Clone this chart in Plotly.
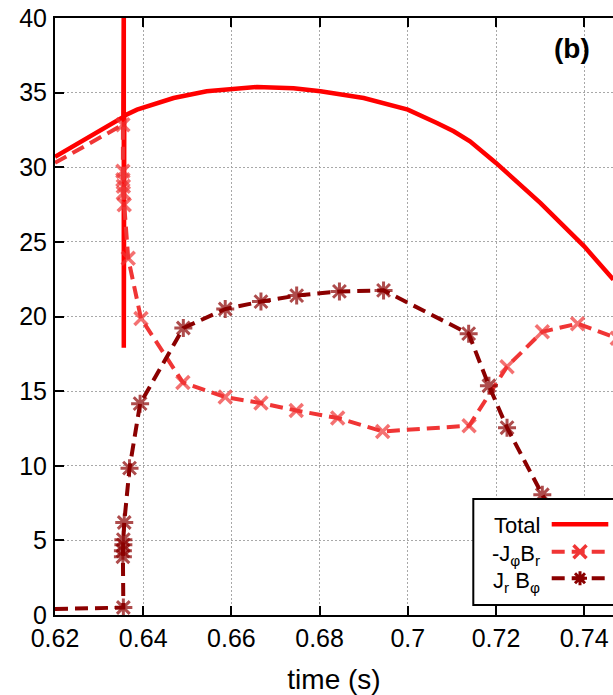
import plotly.graph_objects as go

# ---------------- data ----------------
x_ticks = [0.62, 0.64, 0.66, 0.68, 0.70, 0.72, 0.74]
x_tick_labels = ["0.62", "0.64", "0.66", "0.68", "0.7", "0.72", "0.74"]
y_ticks = [0, 5, 10, 15, 20, 25, 30, 35, 40]

# Total (solid, with a vertical spike near t = 0.6356 s)
total_t = [0.6200, 0.6355, 0.6356, 0.6356, 0.6357, 0.6386, 0.6469, 0.6544, 0.6600,
           0.6658, 0.6741, 0.6802, 0.6900, 0.7000, 0.7066, 0.7104, 0.7141, 0.7200,
           0.7301, 0.7400, 0.7466]
total_v = [30.70, 33.37, 42.0, 17.9, 33.45, 33.86, 34.64, 35.09, 35.27,
           35.38, 35.29, 35.09, 34.64, 33.86, 32.97, 32.41, 31.74, 30.29,
           27.60, 24.70, 22.47]

# -J_phi B_r
jphi_br_t = [0.6200, 0.6354, 0.6354, 0.6354, 0.6355, 0.6355, 0.6357, 0.6366, 0.6395,
             0.6490, 0.6586, 0.6667, 0.6747, 0.6841, 0.6943, 0.7139, 0.7225, 0.7305,
             0.7385, 0.7475]
jphi_br_v = [30.30, 32.85, 29.73, 29.17, 28.72, 28.28, 27.49, 23.90, 19.87,
             15.58, 14.60, 14.20, 13.70, 13.20, 12.30, 12.68, 16.64, 18.98,
             19.52, 18.55]

# J_r B_phi
jr_bphi_t = [0.6200, 0.6355, 0.6354, 0.6354, 0.6355, 0.6355, 0.6357, 0.6369, 0.6393,
             0.6491, 0.6586, 0.6667, 0.6748, 0.6845, 0.6945, 0.7138, 0.7184, 0.7225,
             0.7305, 0.7385]
jr_bphi_v = [0.40, 0.50, 3.90, 4.30, 4.70, 5.05, 6.20, 9.84, 14.16,
             19.23, 20.50, 21.00, 21.40, 21.68, 21.75, 18.85, 15.36, 12.55,
             8.06, 3.60]

# ---------------- style ----------------
FONT = "Liberation Sans, Arial, Helvetica, sans-serif"
C_TOTAL = "#ff0000"
C_JPHI = "#f03535"
C_JR = "#8b0000"
DASH = "13px,7px"

W, H = 613, 695
M_L, M_R, M_T, M_B = 55, 0, 18, 80
PW, PH = W - M_L - M_R, H - M_T - M_B


def pxx(p):
    return (p - M_L) / PW


def pxy(p):
    return (H - M_B - p) / PH


def sizes(n, s):
    # curve enters from the left edge: no marker at the first point
    return [0] + [s] * (n - 1)


fig = go.Figure()
fig.add_trace(go.Scatter(
    x=total_t, y=total_v, mode="lines", name="Total",
    line=dict(color=C_TOTAL, width=4.5), showlegend=False))
fig.add_trace(go.Scatter(
    x=jphi_br_t, y=jphi_br_v, mode="lines+markers", name="-JφBr",
    line=dict(color=C_JPHI, width=4, dash=DASH),
    marker=dict(symbol="x-thin-open", size=sizes(len(jphi_br_t), 13), color=C_JPHI,
                line=dict(color=C_JPHI, width=3.5)),
    showlegend=False))
fig.add_trace(go.Scatter(
    x=jr_bphi_t, y=jr_bphi_v, mode="lines+markers", name="JrBφ",
    line=dict(color=C_JR, width=4, dash=DASH),
    marker=dict(symbol="asterisk-open", size=sizes(len(jr_bphi_t), 15), color=C_JR,
                line=dict(color=C_JR, width=3)),
    showlegend=False))

axis_common = dict(
    showline=True, linecolor="black", linewidth=2,
    ticks="inside", ticklen=9, tickwidth=2, tickcolor="black",
    showgrid=True, gridcolor="#a8a8a8", gridwidth=1, griddash="2px,2px",
    zeroline=False, tickfont=dict(family=FONT, size=25, color="black"),
)

fig.update_xaxes(
    range=[0.62, 0.62 + PW / 4410.0], tickvals=x_ticks, ticktext=x_tick_labels,
    mirror="ticks", ticklabelstandoff=0, automargin=False,
    title=dict(text="time (s)", font=dict(family=FONT, size=28, color="black"), standoff=20),
    **axis_common)
fig.update_yaxes(
    range=[0, 40], tickvals=y_ticks, mirror=False, ticklabelstandoff=1, automargin=False,
    **axis_common)

# ---------------- legend (text left, sample right) ----------------
shapes = [
    dict(type="rect", xref="paper", yref="paper", layer="above",
         x0=pxx(473.3), x1=1.2, y0=pxy(605), y1=pxy(499),
         line=dict(color="black", width=2), fillcolor="white"),
    dict(type="line", xref="paper", yref="paper", layer="above",
         x0=pxx(551.7), x1=pxx(608.3), y0=pxy(524.3), y1=pxy(524.3),
         line=dict(color=C_TOTAL, width=4.5)),
    dict(type="line", xref="paper", yref="paper", layer="above",
         x0=pxx(551.7), x1=pxx(608.3), y0=pxy(551.7), y1=pxy(551.7),
         line=dict(color=C_JPHI, width=4, dash=DASH)),
    dict(type="line", xref="paper", yref="paper", layer="above",
         x0=pxx(551.7), x1=pxx(608.3), y0=pxy(578.3), y1=pxy(578.3),
         line=dict(color=C_JR, width=4, dash=DASH)),
    dict(type="path", xref="paper", yref="paper", layer="above",
         xsizemode="pixel", ysizemode="pixel", xanchor=pxx(580), yanchor=pxy(551.7),
         path="M-6.5,-6.5L6.5,6.5M-6.5,6.5L6.5,-6.5",
         line=dict(color=C_JPHI, width=3.5)),
    dict(type="path", xref="paper", yref="paper", layer="above",
         xsizemode="pixel", ysizemode="pixel", xanchor=pxx(580), yanchor=pxy(578.3),
         path="M-7,0L7,0M0,-7L0,7M-5,-5L5,5M-5,5L5,-5",
         line=dict(color=C_JR, width=3)),
]

annotations = [
    dict(text="Total", xref="paper", yref="paper", x=pxx(542), y=pxy(525),
         xanchor="right", yanchor="middle", showarrow=False,
         font=dict(family=FONT, size=22, color="black")),
    dict(text="-J<sub>φ</sub>B<sub>r</sub>", xref="paper", yref="paper", x=pxx(542), y=pxy(555),
         xanchor="right", yanchor="middle", showarrow=False,
         font=dict(family=FONT, size=22, color="black")),
    dict(text="J<sub>r</sub> B<sub>φ</sub>", xref="paper", yref="paper", x=pxx(542), y=pxy(582),
         xanchor="right", yanchor="middle", showarrow=False,
         font=dict(family=FONT, size=22, color="black")),
    dict(text="<b>(b)</b>", xref="paper", yref="paper", x=pxx(572), y=pxy(48),
         xanchor="center", yanchor="middle", showarrow=False,
         font=dict(family=FONT, size=28, color="black")),
]

fig.update_layout(
    width=W, height=H,
    margin=dict(l=M_L, r=M_R, t=M_T, b=M_B, pad=0),
    paper_bgcolor="white", plot_bgcolor="white",
    shapes=shapes, annotations=annotations,
    showlegend=False,
    font=dict(family=FONT, color="black"),
)

fig.write_html("out.html", config={"displayModeBar": False},
               post_script="document.body.style.margin='0px';")
